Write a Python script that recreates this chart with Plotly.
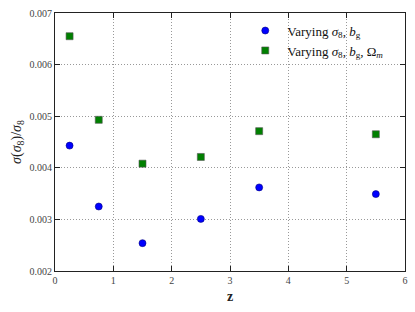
import plotly.graph_objects as go

z_vals = [0.25, 0.75, 1.5, 2.5, 3.5, 5.5]
sig_s8_bg = [0.00443, 0.00325, 0.00254, 0.00301, 0.00362, 0.00349]
sig_s8_bg_om = [0.00655, 0.00493, 0.00408, 0.00421, 0.00471, 0.00465]
x_ticks = [0, 1, 2, 3, 4, 5, 6]
y_ticks = [0.002, 0.003, 0.004, 0.005, 0.006, 0.007]
y_tick_labels = ["0.002", "0.003", "0.004", "0.005", "0.006", "0.007"]

font_family = "Liberation Serif, DejaVu Serif, serif"

fig = go.Figure()
fig.add_trace(go.Scatter(
    x=z_vals, y=sig_s8_bg, mode="markers",
    name="Varying <i>σ</i><sub>8</sub>, <i>b</i><sub>g</sub>",
    marker=dict(symbol="circle", size=7, color="#0000ff",
                line=dict(color="#000080", width=0.6)),
))
fig.add_trace(go.Scatter(
    x=z_vals, y=sig_s8_bg_om, mode="markers",
    name="Varying <i>σ</i><sub>8</sub>, <i>b</i><sub>g</sub>, Ω<sub><i>m</i></sub>",
    marker=dict(symbol="square", size=7, color="#008000",
                line=dict(color="#555555", width=0.6)),
))

axis_common = dict(
    showgrid=True, gridcolor="#999999", griddash="1px,2px", gridwidth=1,
    showline=True, linecolor="#222222", linewidth=1.2, mirror="allticks",
    ticks="inside", ticklen=5, tickcolor="#222222", tickwidth=1,
    zeroline=False, automargin=False,
    tickfont=dict(family=font_family, size=10, color="#444444"),
)

fig.update_layout(
    width=415, height=312,
    margin=dict(l=55, r=10, t=13, b=41),
    paper_bgcolor="white", plot_bgcolor="white",
    font=dict(family=font_family, color="#222222"),
    showlegend=True,
    legend=dict(x=0.955, y=0.99, xanchor="right", yanchor="top",
                bgcolor="rgba(255,255,255,0)", borderwidth=0,
                font=dict(family=font_family, size=13, color="#111111"),
                itemwidth=34, tracegroupgap=0),
    xaxis=dict(range=[0, 6], tickvals=x_ticks,
               title=dict(text="<b>z</b>", font=dict(family=font_family, size=14), standoff=6),
               **axis_common),
    yaxis=dict(range=[0.002, 0.007], tickvals=y_ticks, ticktext=y_tick_labels,
               title=dict(text="<i>σ</i>(<i>σ</i><sub>8</sub>)/<i>σ</i><sub>8</sub>",
                          font=dict(family=font_family, size=14), standoff=4),
               **axis_common),
)

fig.write_html("out.html", config={"displayModeBar": False},
               post_script="document.body.style.margin='0';")
